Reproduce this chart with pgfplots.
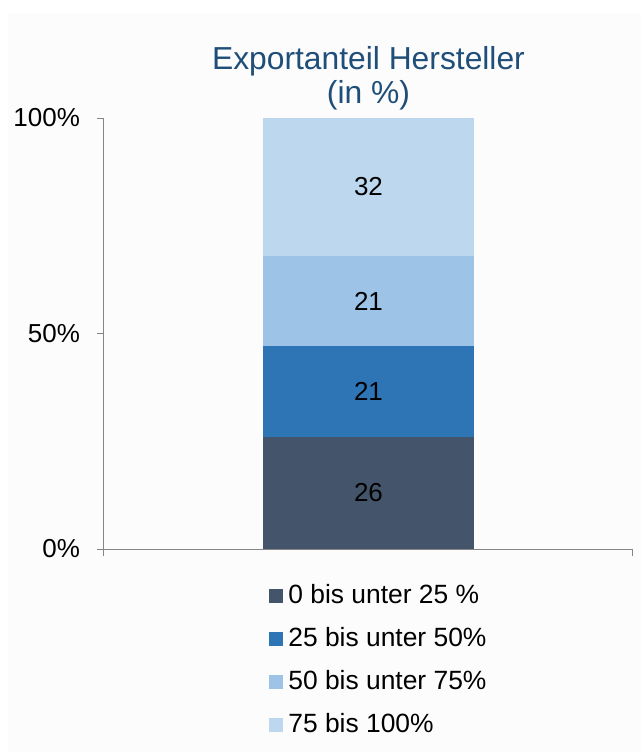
\documentclass[border=0pt]{standalone}
\usepackage{fontspec}
\setmainfont{Liberation Sans}
\usepackage{pgfplots}
\pgfplotsset{compat=1.18}
\definecolor{cA}{HTML}{44546A}
\definecolor{cB}{HTML}{2E75B6}
\definecolor{cC}{HTML}{9DC3E6}
\definecolor{cD}{HTML}{BDD7EE}
\definecolor{titlecol}{HTML}{1F4E79}
\definecolor{axcol}{HTML}{868686}
\definecolor{bgcol}{HTML}{FCFCFC}
\begin{document}
\begin{tikzpicture}
\fill[bgcol] (-48pt,-101.5pt) rectangle (268.5pt,268pt);
\path (-52pt,-101.5pt) rectangle (268.5pt,274.5pt);
\begin{axis}[
  name=ax,
  at={(0pt,0pt)}, anchor=south west,
  scale only axis,
  width=264.5pt, height=215.5pt,
  ybar stacked,
  bar width=105.5pt,
  xmin=-0.5, xmax=0.5,
  ymin=0, ymax=100,
  axis x line*=bottom, axis y line*=left,
  axis line style={draw=axcol, line width=0.5pt},
  xtick={-0.5,0.5}, xticklabels={,},
  ytick={0,50,100}, yticklabels={0\%,50\%,100\%},
  tick align=outside,
  major tick length=3.5pt,
  tick style={draw=axcol, line width=0.5pt},
  ticklabel style={font=\fontsize{13}{15}\selectfont, text=black},
  yticklabel style={xshift=-5pt},
  /pgf/number format/assume math mode=true,
  point meta=explicit,
  nodes near coords,
  every node near coord/.append style={anchor=center, font=\fontsize{13}{15}\selectfont, text=black},
  legend style={at={(0.3005,-0.072)}, anchor=north west, draw=none, fill=none,
    font=\fontsize{13.2}{15}\selectfont, row sep=9.5pt,
    nodes={inner sep=0pt, text height=9.5pt, text depth=2.5pt},
    /tikz/every odd column/.append style={column sep=2.5pt}},
  legend cell align=left,
  legend image code/.code={\fill[#1] (0pt,-3.5pt) rectangle (7pt,3.5pt);},
]
\addplot[fill=cA, draw=none] table[x=x, y=y, meta=y] {
x y
0 26
};
\addplot[fill=cB, draw=none] table[x=x, y=y, meta=y] {
x y
0 21
};
\addplot[fill=cC, draw=none] table[x=x, y=y, meta=y] {
x y
0 21
};
\addplot[fill=cD, draw=none] table[x=x, y=y, meta=y] {
x y
0 32
};
\legend{0 bis unter 25 \%, 25 bis unter 50\%, 50 bis unter 75\%, 75 bis 100\%}
\end{axis}
\node[anchor=base, font=\fontsize{15.9}{18}\selectfont, text=titlecol] at ([yshift=24.5pt]ax.north) {Exportanteil Hersteller};
\node[anchor=base, font=\fontsize{15.9}{18}\selectfont, text=titlecol] at ([yshift=7.5pt]ax.north) {(in \%)};
\end{tikzpicture}
\end{document}
